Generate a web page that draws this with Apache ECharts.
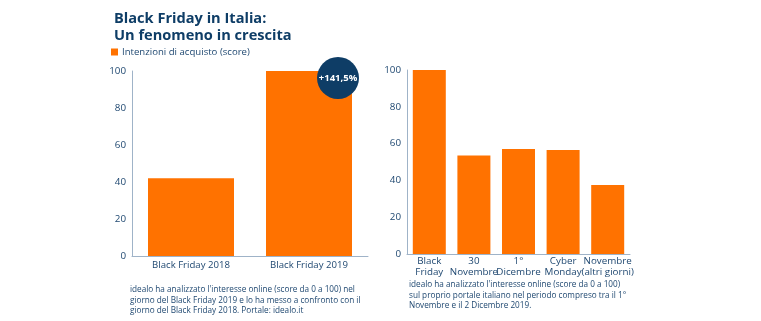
<!DOCTYPE html>
<html><head><meta charset="utf-8">
<script src="https://cdn.jsdelivr.net/npm/echarts@6/dist/echarts.min.js"></script>
<style>html,body{margin:0;padding:0;background:#fff}#c{width:761px;height:321px}</style>
</head><body><div id="c"></div>
<script>
const leftCategories = ['Black Friday 2018', 'Black Friday 2019'];
const leftValues = [42, 100];
const rightCategories = ['Black\nFriday', '30\nNovembre', '1°\nDicembre', 'Cyber\nMonday', 'Novembre\n(altri giorni)'];
const rightValues = [100, 53.5, 57, 56.5, 37.5];
const yTicks = [0, 20, 40, 60, 80, 100];
const badgeText = '+141,5%';

const ORANGE = '#ff7200';
const NAVY = '#0e3d66';
const TXT = '#1e4770';
const AXIS = '#9fb3c8';
const FONT = 'Open Sans';

const chart = echarts.init(document.getElementById('c'), null, {renderer: 'canvas'});
function yAxis(gi) {
  return {type: 'value', gridIndex: gi, min: yTicks[0], max: yTicks[yTicks.length - 1], interval: 20,
    axisLine: {show: true, lineStyle: {color: AXIS, width: 1}}, axisTick: {show: false}, splitLine: {show: false},
    axisLabel: {color: TXT, fontFamily: FONT, fontSize: 9.8, margin: 6}};
}
function xAxis(gi, cats, size, margin, lh) {
  return {type: 'category', gridIndex: gi, data: cats,
    axisLine: {lineStyle: {color: AXIS, width: 1}}, axisTick: {show: false},
    axisLabel: {color: TXT, fontFamily: FONT, fontSize: size, margin: margin, lineHeight: lh, interval: 0}};
}
chart.setOption({
  animation: false,
  textStyle: {fontFamily: FONT},
  title: {text: 'Black Friday in Italia:\nUn fenomeno in crescita', left: 109, top: 5,
    textStyle: {color: NAVY, fontFamily: FONT, fontSize: 14.6, fontWeight: 'bold', lineHeight: 17.5}},
  legend: {left: 106, top: 42, itemWidth: 7, itemHeight: 7, itemGap: 4, icon: 'rect',
    data: ['Intenzioni di acquisto (score)'],
    textStyle: {color: TXT, fontFamily: FONT, fontSize: 9.6, padding: [0, 0, 0, -1]}},
  grid: [
    {left: 132, top: 71, width: 236, height: 185},
    {left: 407, top: 70, width: 223, height: 184}
  ],
  xAxis: [xAxis(0, leftCategories, 9.6, 3, 13), xAxis(1, rightCategories, 9.8, 1, 11.5)],
  yAxis: [yAxis(0), yAxis(1)],
  graphic: [
    {type: 'text', left: 130, top: 285, style: {text: "idealo ha analizzato l'interesse online (score da 0 a 100) nel\ngiorno del Black Friday 2019 e lo ha messo a confronto con il\ngiorno del Black Friday 2018. Portale: idealo.it", fill: TXT, font: '8.2px "Open Sans"', lineHeight: 10.3}},
    {type: 'text', left: 409, top: 280, style: {text: "idealo ha analizzato l'interesse online (score da 0 a 100)\nsul proprio portale italiano nel periodo compreso tra il 1°\nNovembre e il 2 Dicembre 2019.", fill: TXT, font: '8.2px "Open Sans"', lineHeight: 10.3}}
  ],
  series: [
    {name: 'Intenzioni di acquisto (score)', type: 'bar', xAxisIndex: 0, yAxisIndex: 0, data: leftValues,
      barWidth: 86, itemStyle: {color: ORANGE},
      markPoint: {symbol: 'circle', symbolSize: 42, symbolOffset: [29, 7],
        itemStyle: {color: NAVY},
        label: {show: true, formatter: badgeText, color: '#fff', fontFamily: FONT, fontWeight: 'bold', fontSize: 9.5},
        data: [{coord: [leftCategories[1], leftValues[1]]}]}},
    {name: 'Intenzioni di acquisto (score)', type: 'bar', xAxisIndex: 1, yAxisIndex: 1, data: rightValues,
      barWidth: 33, itemStyle: {color: ORANGE}}
  ]
});
</script></body></html>
